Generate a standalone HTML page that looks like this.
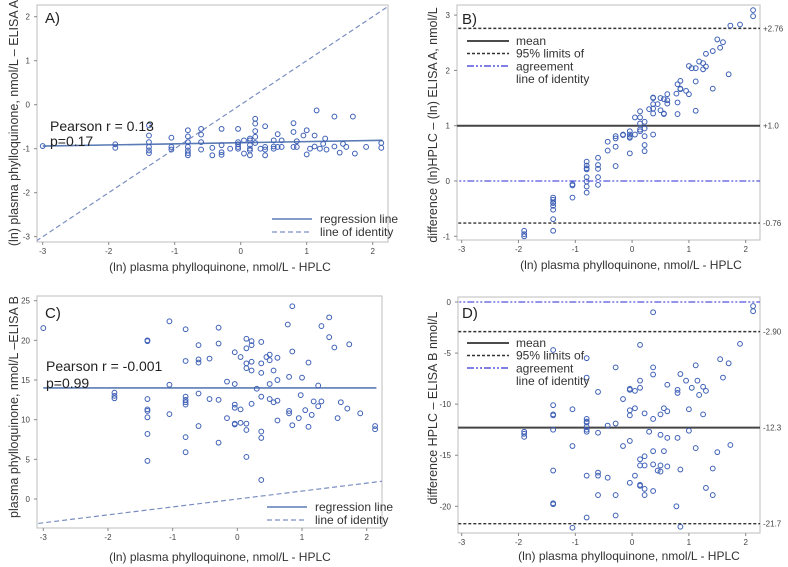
<!DOCTYPE html>
<html><head><meta charset="utf-8"><style>
body{margin:0;background:#fff;}
svg{display:block;font-family:"Liberation Sans",sans-serif;}
.tk{font-size:8px;fill:#444;}
.ttl{font-size:12px;fill:#333;}
.ytl{font-size:12.5px;fill:#333;}
.lg{font-size:12px;fill:#333;}
</style></head><body>
<svg id="c" width="788" height="567" xmlns="http://www.w3.org/2000/svg"></svg>
<script>
const xTicks=[-3,-2,-1,0,1,2];
const aX=[-3,-1.9,-1.9,-1.39,-1.39,-1.39,-1.39,-1.39,-1.39,-1.05,-1.05,-1.05,-0.8,-0.8,-0.8,-0.8,-0.8,-0.8,-0.8,-0.6,-0.6,-0.6,-0.6,-0.43,-0.43,-0.29,-0.29,-0.29,-0.29,-0.16,-0.04,-0.04,-0.04,-0.04,-0.04,0.05,0.05,0.14,0.14,0.14,0.14,0.14,0.14,0.22,0.22,0.22,0.22,0.22,0.3,0.37,0.37,0.37,0.37,0.5,0.5,0.5,0.56,0.56,0.62,0.62,0.8,0.8,0.8,0.85,0.85,0.95,1.0,1.0,1.05,1.12,1.12,1.15,1.2,1.25,1.28,1.3,1.42,1.42,1.5,1.55,1.6,1.7,1.73,1.9,2.13,2.13];
const aY=[-0.94,-0.9,-0.98,-0.47,-0.7,-0.85,-0.96,-1.04,-1.1,-0.75,-0.96,-1.02,-0.58,-0.72,-0.85,-0.96,-1.04,-1.1,-1.15,-0.55,-0.68,-0.85,-1.02,-0.98,-1.15,-0.55,-0.92,-1.08,-1.14,-1.0,-0.55,-0.85,-0.9,-0.96,-1.0,-0.81,-1.11,-0.77,-0.81,-0.92,-1.0,-1.04,-1.15,-0.32,-0.43,-0.6,-0.73,-0.87,-1.0,-0.49,-0.96,-1.02,-1.15,-0.81,-0.95,-1.0,-0.67,-0.96,-0.81,-0.96,-0.42,-0.62,-0.96,-0.83,-0.96,-0.7,-0.58,-1.13,-1.0,-0.7,-0.95,-0.13,-1.0,-0.89,-0.77,-1.02,-0.27,-0.95,-1.09,-0.89,-0.96,-0.27,-1.11,-0.96,-0.87,-0.98];
const aReg=[-0.94,-0.81];
const bX=[-1.9,-1.9,-1.9,-1.39,-1.39,-1.39,-1.39,-1.39,-1.39,-1.39,-1.39,-1.05,-1.05,-1.05,-0.8,-0.8,-0.8,-0.8,-0.8,-0.8,-0.8,-0.8,-0.6,-0.6,-0.6,-0.6,-0.6,-0.43,-0.43,-0.29,-0.29,-0.29,-0.29,-0.16,-0.16,-0.04,-0.04,-0.04,-0.04,-0.04,0.05,0.05,0.14,0.14,0.14,0.14,0.14,0.22,0.22,0.22,0.22,0.22,0.3,0.37,0.37,0.37,0.37,0.37,0.37,0.45,0.5,0.5,0.56,0.56,0.56,0.62,0.62,0.62,0.78,0.8,0.8,0.8,0.85,0.85,0.85,0.95,1.0,1.0,1.05,1.12,1.12,1.12,1.18,1.25,1.25,1.3,1.3,1.42,1.42,1.5,1.55,1.6,1.7,1.73,1.9,2.13,2.13];
const bY=[-0.9,-0.96,-1.0,-0.3,-0.34,-0.39,-0.4,-0.45,-0.52,-0.69,-0.9,-0.06,-0.08,-0.3,0.35,0.28,0.23,0.21,0.07,-0.01,-0.1,-0.21,0.42,0.29,0.22,0.07,-0.07,0.71,0.55,0.81,0.77,0.62,0.27,0.84,0.83,0.9,0.84,0.8,0.78,0.5,1.15,0.84,1.26,1.15,1.04,0.93,0.9,1.07,0.95,0.81,0.65,0.54,1.3,1.51,1.5,1.39,1.31,1.22,0.84,1.39,1.5,1.28,1.48,1.22,1.21,1.57,1.46,1.4,1.58,1.75,1.42,1.21,1.81,1.67,1.66,1.63,2.08,1.57,2.04,2.04,1.8,1.27,2.16,2.13,2.02,2.3,2.07,2.35,1.67,2.56,2.41,2.51,1.93,2.81,2.83,3.09,2.98];
const bLines=[2.76,1.0,-0.76];
const bLabels=["+2.76","+1.0","-0.76"];
const cX=[-3,-1.9,-1.9,-1.9,-1.39,-1.39,-1.39,-1.39,-1.39,-1.39,-1.39,-1.39,-1.05,-1.05,-1.05,-0.8,-0.8,-0.8,-0.8,-0.8,-0.8,-0.8,-0.8,-0.6,-0.6,-0.6,-0.6,-0.6,-0.43,-0.43,-0.29,-0.29,-0.29,-0.29,-0.16,-0.16,-0.04,-0.04,-0.04,-0.04,-0.04,-0.04,0.05,0.05,0.05,0.14,0.14,0.14,0.14,0.14,0.14,0.14,0.22,0.22,0.22,0.22,0.22,0.3,0.37,0.37,0.37,0.37,0.37,0.37,0.37,0.45,0.5,0.5,0.5,0.5,0.56,0.56,0.62,0.62,0.62,0.62,0.78,0.8,0.8,0.8,0.85,0.85,0.85,0.95,0.98,1.0,1.05,1.1,1.1,1.15,1.18,1.25,1.25,1.3,1.3,1.42,1.42,1.5,1.55,1.6,1.7,1.73,1.9,2.13,2.13];
const cY=[21.55,13.4,13.0,12.7,20.0,19.9,12.6,11.3,11.1,10.3,8.2,4.8,22.4,14.4,10.7,21.4,17.4,12.9,12.5,12.2,11.9,7.8,5.9,19.4,17.6,17.2,13.3,9.2,17.7,12.6,21.6,19.6,12.5,7.1,14.8,10.2,18.5,14.5,11.9,11.5,9.5,9.4,17.9,11.3,9.6,20.2,19.0,17.1,16.5,9.5,8.7,5.3,19.9,19.4,17.3,16.2,12.0,13.9,19.8,17.1,15.9,12.9,8.5,7.7,2.4,17.9,18.2,17.5,14.5,12.6,16.2,12.2,17.8,15.0,12.4,9.9,22.0,15.4,11.1,10.8,24.3,18.6,9.3,10.2,13.1,15.3,11.2,17.2,9.1,10.6,12.3,14.3,11.7,21.8,12.3,22.9,20.4,19.1,10.2,12.2,11.4,19.5,10.8,9.2,8.8];
const cReg=[14.0,14.0];
const dX=[-1.9,-1.9,-1.9,-1.39,-1.39,-1.39,-1.39,-1.39,-1.39,-1.39,-1.39,-1.05,-1.05,-1.05,-0.8,-0.8,-0.8,-0.8,-0.8,-0.8,-0.8,-0.8,-0.8,-0.8,-0.6,-0.6,-0.6,-0.6,-0.6,-0.43,-0.43,-0.29,-0.29,-0.29,-0.29,-0.16,-0.16,-0.04,-0.04,-0.04,-0.04,-0.04,-0.04,0.05,0.05,0.05,0.14,0.14,0.14,0.14,0.14,0.14,0.14,0.22,0.22,0.22,0.22,0.22,0.3,0.37,0.37,0.37,0.37,0.37,0.37,0.37,0.45,0.5,0.5,0.5,0.5,0.56,0.56,0.62,0.62,0.62,0.62,0.78,0.8,0.8,0.8,0.85,0.85,0.85,0.95,1.0,1.0,1.05,1.12,1.12,1.15,1.18,1.25,1.25,1.3,1.3,1.42,1.42,1.5,1.55,1.6,1.7,1.73,1.9,2.13,2.13];
const dY=[-12.7,-12.9,-13.2,-4.7,-10.1,-11.0,-11.1,-12.5,-16.5,-19.7,-19.8,-10.5,-14.1,-22.1,-5.5,-7.4,-11.45,-11.7,-11.8,-12.2,-12.5,-12.7,-17.0,-21.1,-8.8,-12.8,-16.7,-17.0,-18.9,-12.1,-17.2,-6.4,-11.9,-18.9,-20.9,-9.5,-14.1,-8.5,-8.6,-10.6,-11.1,-13.6,-17.7,-8.7,-10.4,-17.0,-4.2,-7.7,-8.4,-15.4,-16.0,-17.9,-18.0,-10.9,-15.1,-16.0,-18.3,-18.9,-12.7,-1.0,-6.4,-7.1,-11.45,-14.6,-15.9,-18.5,-16.5,-11.0,-13.0,-16.0,-16.6,-10.4,-14.6,-8.1,-10.7,-13.3,-16.1,-20.0,-8.6,-8.9,-13.3,-7.05,-16.4,-22.0,-7.7,-10.5,-12.6,-8.4,-6.2,-14.3,-7.7,-9.1,-8.3,-11.0,-8.7,-18.2,-16.3,-18.9,-14.7,-5.6,-7.4,-6.0,-14.0,-4.1,-0.4,-0.9];
const dLines=[-2.90,-12.3,-21.7];
const dLabels=["-2.90","-12.3","-21.7"];

const svg=document.getElementById('c');
const NS='http://www.w3.org/2000/svg';
function mk(tag,at,parent,txt){const e=document.createElementNS(NS,tag);for(const k in at)e.setAttribute(k,at[k]);if(txt!==undefined)e.textContent=txt;(parent||svg).appendChild(e);return e;}
function lin(d0,d1,r0,r1){return v=>r0+(v-d0)*(r1-r0)/(d1-d0);}

function panel(cfg){
  const g=mk('g',{});
  
  
  const {fx0,fx1,fy0,fy1}=cfg;
  const fr=mk('rect',{x:fx0,y:fy0,width:fx1-fx0,height:fy1-fy0,fill:'none',stroke:'#c8c8c8','stroke-width':1.2},g);
  
  
  const sx=cfg.sx, sy=cfg.sy;
  xTicks.forEach(t=>{
    const x=sx(t);
    mk('line',{x1:x,x2:x,y1:fy1,y2:fy1+3,stroke:'#888'},g);
    const tx=mk('text',{x:x,y:fy1+12,'text-anchor':'middle',class:'tk'},g,String(t));
    
    
  });
  cfg.yTicks.forEach(t=>{
    const y=sy(t);
    mk('line',{x1:fx0-3,x2:fx0,y1:y,y2:y,stroke:'#888'},g);
    const tx=mk('text',{x:fx0-7,y:y+3,'text-anchor':'end',class:'tk'},g,String(t));
    
    
  });
  const clip='cl'+cfg.name;
  const cp=mk('clipPath',{id:clip},g);mk('rect',{x:fx0,y:fy0,width:fx1-fx0,height:fy1-fy0},cp);
  const inner=mk('g',{'clip-path':'url(#'+clip+')'},g);
  if(cfg.draw)cfg.draw(inner,sx,sy);
  cfg.xs.forEach((xv,i)=>{
    const c=mk('circle',{cx:sx(xv),cy:sy(cfg.ys[i]),r:2.4,fill:'none',stroke:'#3d5fb5','stroke-width':1},inner);
    
    
  });
  const xt=mk('text',{x:cfg.xtx,y:cfg.xty,'text-anchor':'middle',class:'ttl'},g,'(ln) plasma phylloquinone, nmol/L - HPLC');
  
  
  const yt=mk('text',{x:0,y:0,'text-anchor':'middle',class:'ytl',transform:`translate(${cfg.ytx},${cfg.yty}) rotate(-90)`},g,cfg.ytitle);
  
  
  const pl=mk('text',{x:cfg.lx,y:cfg.ly,'font-size':'15px',fill:'#222'},g,cfg.letter);
  
  
  return g;
}

function regLegend(g,x,y){
  const l1=mk('line',{x1:x,x2:x+40,y1:y,y2:y,stroke:'#5a7bb5','stroke-width':1.6},g);
  
  const t1=mk('text',{x:x+48,y:y+4,class:'lg'},g,'regression line');
  
  const l2=mk('line',{x1:x,x2:x+40,y1:y+13,y2:y+13,stroke:'#7a8fc0','stroke-width':1.2,'stroke-dasharray':'5,3'},g);
  
  const t2=mk('text',{x:x+48,y:y+17,class:'lg'},g,'line of identity');
  
}
function baLegend(g,x,y){
  const rows=['mean','95% limits of','agreement','line of identity'];
  const st=[{stroke:'#333','stroke-width':1.8},{stroke:'#333','stroke-width':1.4,'stroke-dasharray':'3,2'},{stroke:'#5555dd','stroke-width':1.4,'stroke-dasharray':'7,2,2,2,2,2'}];
  st.forEach((s,i)=>{const l=mk('line',Object.assign({x1:x,x2:x+42,y1:y+i*12.5,y2:y+i*12.5},s),g);
    });
  rows.forEach((r,i)=>{const t=mk('text',{x:x+49,y:y+4+i*12.7,class:'lg'},g,r);
    });
}
function hline(g,sx,sy,v,style){mk('line',Object.assign({x1:sx(-3.5),x2:sx(2.5),y1:sy(v),y2:sy(v)},style),g);}

// Panel A
{
 const sx=lin(-3,2,42.7,372.7), sy=lin(-3,2,236.7,16.7);
 const g=panel({name:'panel-a',fx0:37,fx1:388,fy0:5,fy1:242,sx,sy,yTicks:[-3,-2,-1,0,1,2],xs:aX,ys:aY,
  xtx:220,xty:271,ytx:18,yty:123,ytitle:'(ln) plasma phylloquinone, nmol/L – ELISA A',lx:45,ly:23,letter:'A)',
  draw:(g,sx,sy)=>{
    const id=mk('line',{x1:sx(-3.2),y1:sy(-3.2),x2:sx(2.5),y2:sy(2.5),stroke:'#7a8fc0','stroke-width':1.2,'stroke-dasharray':'5,3'},g);
    
    const rg=mk('line',{x1:sx(-3),y1:sy(aReg[0]),x2:sx(2.15),y2:sy(aReg[1]),stroke:'#5a7bb5','stroke-width':1.6},g);
    
  }});
 const t1=mk('text',{x:50,y:131,'font-size':'14px',fill:'#222'},g,'Pearson r = 0.13');
 
 const t2=mk('text',{x:50,y:146,'font-size':'14px',fill:'#222'},g,'p=0.17');
 
 regLegend(g,272,219);
}
// Panel B
{
 const sx=lin(-3,2,461.7,745.7), sy=lin(0,1,181,125.7);
 const g=panel({name:'panel-b',fx0:457,fx1:760,fy0:5,fy1:240,sx,sy,yTicks:[-1,0,1,2,3],xs:bX,ys:bY,
  xtx:631,xty:269,ytx:437,yty:125,ytitle:'difference (ln)HPLC – (ln)  ELISA A, nmol/L',lx:462,ly:24,letter:'B)',
  draw:(g,sx,sy)=>{
    hline(g,sx,sy,0,{stroke:'#5555dd','stroke-width':1.2,'stroke-dasharray':'7,2,2,2,2,2'});
    hline(g,sx,sy,bLines[0],{stroke:'#333','stroke-width':1.4,'stroke-dasharray':'3,2'});
    hline(g,sx,sy,bLines[1],{stroke:'#444','stroke-width':2});
    hline(g,sx,sy,bLines[2],{stroke:'#333','stroke-width':1.4,'stroke-dasharray':'3,2'});
  }});
 bLines.forEach((v,i)=>{const t=mk('text',{x:763,y:sy(v)+3,class:'tk'},g,bLabels[i]);
   });
 baLegend(g,467,41);
}
// Panel C
{
 const sx=lin(-3,2,43.3,366.7), sy=lin(0,25,499,300.7);
 const g=panel({name:'panel-c',fx0:37,fx1:382,fy0:296,fy1:528,sx,sy,yTicks:[0,5,10,15,20,25],xs:cX,ys:cY,
  xtx:220,xty:561,ytx:18,yty:407,ytitle:'plasma phylloquinone, nmol/L –ELISA B',lx:45,ly:318,letter:'C)',
  draw:(g,sx,sy)=>{
    const id=mk('line',{x1:sx(-3.2),y1:sy(-3.2),x2:sx(2.5),y2:sy(2.5),stroke:'#7a8fc0','stroke-width':1.2,'stroke-dasharray':'5,3'},g);
    
    const rg=mk('line',{x1:sx(-3),y1:sy(cReg[0]),x2:sx(2.15),y2:sy(cReg[1]),stroke:'#5a7bb5','stroke-width':1.6},g);
    
  }});
 const t1=mk('text',{x:46,y:371,'font-size':'14px',fill:'#222'},g,'Pearson r = -0.001');
 
 const t2=mk('text',{x:46,y:388,'font-size':'14px',fill:'#222'},g,'p=0.99');
 
 regLegend(g,267,507);
}
// Panel D
{
 const sx=lin(-3,2,461.7,745.7), sy=lin(0,-20,302,506.3);
 const g=panel({name:'panel-d',fx0:458,fx1:760,fy0:297,fy1:533,sx,sy,yTicks:[-20,-15,-10,-5,0],xs:dX,ys:dY,
  xtx:629,xty:560,ytx:437,yty:408,ytitle:'difference HPLC –  ELISA B nmol/L',lx:462,ly:318,letter:'D)',
  draw:(g,sx,sy)=>{
    hline(g,sx,sy,0,{stroke:'#5555dd','stroke-width':1.2,'stroke-dasharray':'7,2,2,2,2,2'});
    hline(g,sx,sy,dLines[0],{stroke:'#333','stroke-width':1.4,'stroke-dasharray':'3,2'});
    hline(g,sx,sy,dLines[1],{stroke:'#444','stroke-width':2});
    hline(g,sx,sy,dLines[2],{stroke:'#333','stroke-width':1.4,'stroke-dasharray':'3,2'});
  }});
 dLines.forEach((v,i)=>{const t=mk('text',{x:763,y:sy(v)+3,class:'tk'},g,dLabels[i]);
   });
 baLegend(g,467,343);
}
</script>
</body></html>
